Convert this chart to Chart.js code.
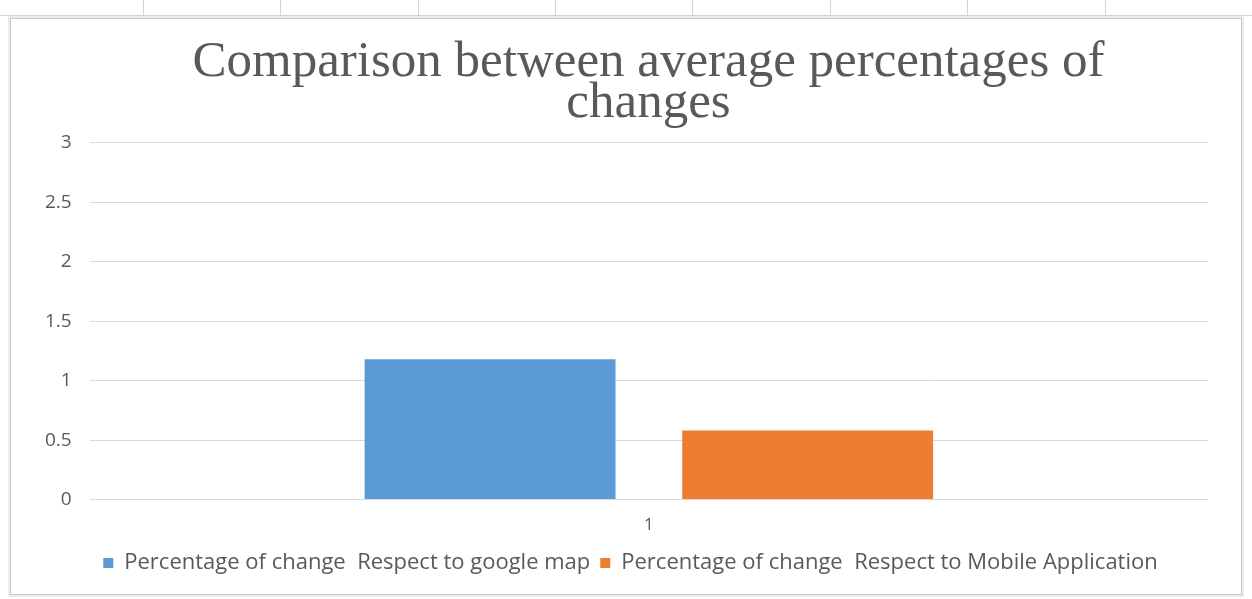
<!DOCTYPE html>
<html>
<head>
<meta charset="utf-8">
<script src="https://cdn.jsdelivr.net/npm/chart.js@4.4.1/dist/chart.umd.min.js"></script>
<style>
    html, body { margin: 0; padding: 0; background: #fff; }
    body { width: 1252px; height: 599px; position: relative; overflow: hidden; }
    .sheet-line { position: absolute; top: 0; width: 1px; height: 16px; background: #d4d4d4; }
    .sheet-row { position: absolute; left: 0; top: 15px; width: 1252px; height: 1px; background: #d4d4d4; }
    #frame {
        position: absolute; left: 10px; top: 18px; width: 1230px; height: 575px;
        border: 1px solid #c8c8c8; box-shadow: 0 0 0 2px #ececec; background: #fff;
    }
    #chart-box { position: absolute; left: 0; top: 0; width: 1230px; height: 575px; }
</style>
</head>
<body>
<div class="sheet-row"></div>
<div class="sheet-line" style="left:143px"></div>
<div class="sheet-line" style="left:280px"></div>
<div class="sheet-line" style="left:418px"></div>
<div class="sheet-line" style="left:555px"></div>
<div class="sheet-line" style="left:692px"></div>
<div class="sheet-line" style="left:830px"></div>
<div class="sheet-line" style="left:967px"></div>
<div class="sheet-line" style="left:1105px"></div>
<div id="frame">
    <div id="chart-box"><canvas id="changes-chart"></canvas></div>
</div>
<script>
// Chart data
const categories = ['1'];
const googleMapChange = [1.18];
const mobileAppChange = [0.58];
const seriesLabels = [
    'Percentage of change  Respect to google map',
    'Percentage of change  Respect to Mobile Application'
];
const titleLines = ['Comparison between average percentages of', 'changes'];

const textGray = '#595959';
const gridGray = '#d9d9d9';

// Excel centres title and legend a bit right of the canvas middle
const shiftBlocks = {
    id: 'shiftBlocks',
    afterLayout(chart) {
        chart.titleBlock.left += 62;
        chart.legend.left += 26;
    }
};

const ctx = document.getElementById('changes-chart').getContext('2d');
new Chart(ctx, {
    type: 'bar',
    data: {
        labels: categories,
        datasets: [
            {
                label: seriesLabels[0],
                data: googleMapChange,
                backgroundColor: '#5b9bd5'
            },
            {
                label: seriesLabels[1],
                data: mobileAppChange,
                backgroundColor: '#ed7d31'
            }
        ]
    },
    options: {
        responsive: true,
        maintainAspectRatio: false,
        animation: false,
        layout: {
            padding: { left: 16, right: 33, top: 10, bottom: 10 }
        },
        datasets: {
            bar: { categoryPercentage: 0.568, barPercentage: 0.79 }
        },
        plugins: {
            title: {
                display: true,
                text: titleLines,
                color: textGray,
                font: { family: '"Liberation Serif", "DejaVu Serif", serif', size: 51, weight: 'normal', lineHeight: 0.8 },
                padding: { top: 13, bottom: 19 }
            },
            legend: {
                position: 'bottom',
                labels: {
                    color: textGray,
                    font: { family: '"Open Sans", sans-serif', size: 22 },
                    boxWidth: 10,
                    boxHeight: 10,
                    padding: 10
                }
            },
            tooltip: { enabled: false }
        },
        scales: {
            x: {
                grid: { display: false },
                border: { display: false },
                ticks: {
                    color: textGray,
                    font: { family: '"Open Sans", sans-serif', size: 17 },
                    padding: 7
                }
            },
            y: {
                min: 0,
                max: 3,
                ticks: {
                    stepSize: 0.5,
                    color: textGray,
                    font: { family: '"Open Sans", sans-serif', size: 19 },
                    padding: 18,
                    callback: (value) => String(value)
                },
                grid: { color: gridGray, lineWidth: 1, drawTicks: false },
                border: { display: false }
            }
        }
    },
    plugins: [shiftBlocks]
});
</script>
</body>
</html>
